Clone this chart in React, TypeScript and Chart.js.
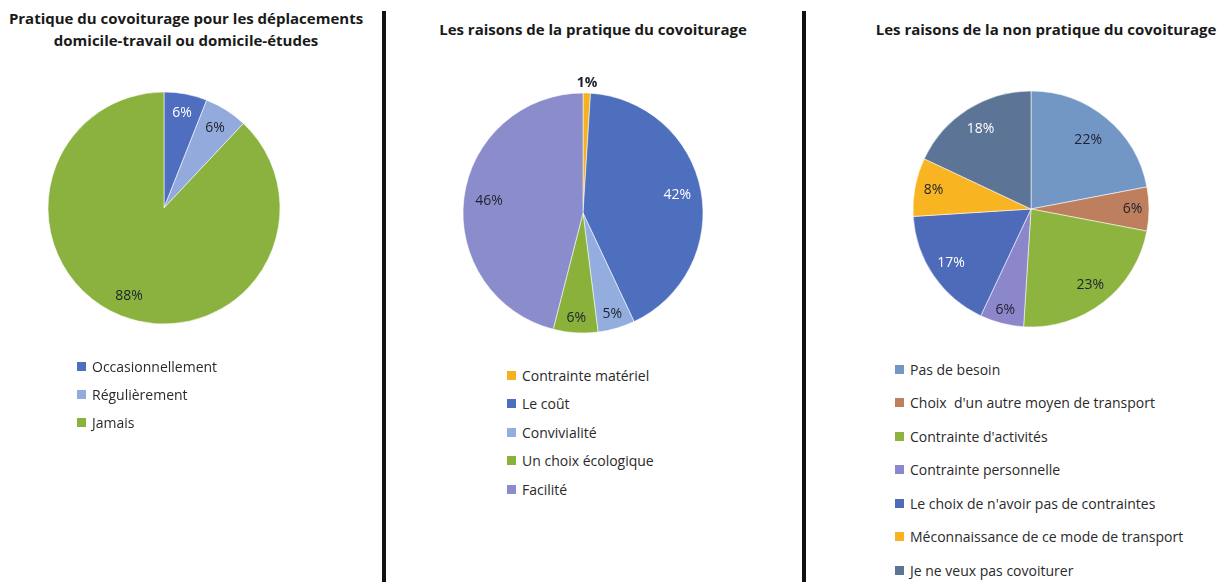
import React, { useEffect, useRef } from "react";
import { Chart, registerables } from "chart.js";

Chart.register(...registerables);

// ---- Data ----
const practiceLabels = ["Occasionnellement", "Régulièrement", "Jamais"];
const practiceValues = [6, 6, 88];

const reasonLabels = [
  "Contrainte matériel",
  "Le coût",
  "Convivialité",
  "Un choix écologique",
  "Facilité",
];
const reasonValues = [1, 42, 5, 6, 46];

const nonReasonLabels = [
  "Pas de besoin",
  "Choix  d'un autre moyen de transport",
  "Contrainte d'activités",
  "Contrainte personnelle",
  "Le choix de n'avoir pas de contraintes",
  "Méconnaissance de ce mode de transport",
  "Je ne veux pas covoiturer",
];
const nonReasonValues = [22, 6, 23, 6, 17, 8, 18];

// ---- Styles ----
const practiceColors = ["#4F6EC0", "#93ABDC", "#8BB23E"];
const reasonColors = ["#F4B120", "#4E6EBE", "#93ADDE", "#8AB23A", "#8B8CCB"];
const nonReasonColors = ["#7397C5", "#BD7F5E", "#8CB43F", "#8C87CA", "#4E6BBA", "#F9B521", "#5C7495"];

const DARK = "#1e2230";
const FONT = '"Open Sans", "Noto Sans", sans-serif';

type Panel = {
  key: string;
  title: string[];
  titleX: number;
  titleY: number[];
  labels: string[];
  values: number[];
  colors: string[];
  labelColors: string[];
  labelFrac: number[];
  labelBold: boolean[];
  cx: number;
  cy: number;
  r: number;
  legendX: number;
  legendY: number;
  legendStep: number;
};

const panels: Panel[] = [
  {
    key: "p1",
    title: ["Pratique du covoiturage pour les déplacements", "domicile-travail ou domicile-études"],
    titleX: 186,
    titleY: [19, 41],
    labels: practiceLabels,
    values: practiceValues,
    colors: practiceColors,
    labelColors: ["#ffffff", DARK, DARK],
    labelFrac: [0.83, 0.82, 0.82],
    labelBold: [false, false, false],
    cx: 164,
    cy: 208,
    r: 116,
    legendX: 77,
    legendY: 366,
    legendStep: 28,
  },
  {
    key: "p2",
    title: ["Les raisons de la pratique du covoiturage"],
    titleX: 593,
    titleY: [30],
    labels: reasonLabels,
    values: reasonValues,
    colors: reasonColors,
    labelColors: [DARK, "#ffffff", DARK, DARK, DARK],
    labelFrac: [1.08, 0.8, 0.875, 0.875, 0.79],
    labelBold: [true, false, false, false, false],
    cx: 583,
    cy: 213,
    r: 120,
    legendX: 507,
    legendY: 375,
    legendStep: 28.5,
  },
  {
    key: "p3",
    title: ["Les raisons de la non pratique du covoiturage"],
    titleX: 1046,
    titleY: [30],
    labels: nonReasonLabels,
    values: nonReasonValues,
    colors: nonReasonColors,
    labelColors: [DARK, DARK, DARK, DARK, "#ffffff", DARK, "#ffffff"],
    labelFrac: [0.76, 0.86, 0.82, 0.88, 0.82, 0.84, 0.8],
    labelBold: [false, false, false, false, false, false, false],
    cx: 1031,
    cy: 209,
    r: 118,
    legendX: 895,
    legendY: 369,
    legendStep: 33.5,
  },
];

const CANVAS = 300;

const sliceLabelPlugin = {
  id: "sliceLabels",
  afterDatasetsDraw(chart: any, _args: any, opts: any) {
    const ctx = chart.ctx;
    const meta = chart.getDatasetMeta(0);
    const values = chart.data.datasets[0].data as number[];
    ctx.save();
    ctx.textAlign = "center";
    ctx.textBaseline = "middle";
    meta.data.forEach((arc: any, i: number) => {
      const p = arc.getProps(["x", "y", "startAngle", "endAngle", "outerRadius"], true);
      const mid = (p.startAngle + p.endAngle) / 2;
      const d = p.outerRadius * (opts.frac[i] ?? 0.8);
      const x = p.x + Math.cos(mid) * d;
      const y = p.y + Math.sin(mid) * d;
      ctx.font = `${opts.bold[i] ? "bold " : ""}14px ${FONT}`;
      ctx.fillStyle = opts.colors[i];
      ctx.fillText(`${values[i]}%`, x, y);
    });
    ctx.restore();
  },
};

function PiePanel({ panel }: { panel: Panel }) {
  const ref = useRef<HTMLCanvasElement | null>(null);
  useEffect(() => {
    if (!ref.current) return;
    const chart = new Chart(ref.current, {
      type: "pie",
      data: {
        labels: panel.labels,
        datasets: [
          {
            data: panel.values,
            backgroundColor: panel.colors,
            borderColor: "rgba(255,255,255,0.55)",
            borderWidth: 1,
          },
        ],
      },
      options: {
        responsive: false,
        animation: false,
        radius: panel.r,
        layout: { padding: 0 },
        plugins: {
          legend: { display: false },
          title: { display: false },
          tooltip: { enabled: false },
          sliceLabels: {
            colors: panel.labelColors,
            frac: panel.labelFrac,
            bold: panel.labelBold,
          },
        } as any,
      } as any,
      plugins: [sliceLabelPlugin],
    });
    return () => chart.destroy();
  }, [panel]);

  return (
    <>
      {panel.title.map((t, i) => (
        <div
          key={"t" + i}
          style={{
            position: "absolute",
            left: panel.titleX - 250,
            width: 500,
            top: panel.titleY[i] - 11,
            height: 22,
            lineHeight: "22px",
            textAlign: "center",
            font: `bold 15px ${FONT}`,
            color: "#1a1a1a",
            whiteSpace: "pre",
          }}
        >
          {t}
        </div>
      ))}
      <canvas
        ref={ref}
        width={CANVAS}
        height={CANVAS}
        style={{
          position: "absolute",
          left: panel.cx - CANVAS / 2,
          top: panel.cy - CANVAS / 2,
          width: CANVAS,
          height: CANVAS,
        }}
      />
      {panel.labels.map((l, i) => (
        <div
          key={"l" + i}
          style={{
            position: "absolute",
            left: panel.legendX,
            top: panel.legendY + i * panel.legendStep - 10,
            height: 20,
            display: "flex",
            alignItems: "center",
            whiteSpace: "pre",
            font: `14px ${FONT}`,
            color: "#2a2a2a",
          }}
        >
          <span
            style={{
              display: "inline-block",
              width: 9,
              height: 9,
              background: panel.colors[i],
              marginRight: 6,
            }}
          />
          {l}
        </div>
      ))}
    </>
  );
}

export default function App() {
  return (
    <div
      style={{
        position: "fixed",
        left: 0,
        top: 0,
        width: 1227,
        height: 582,
        background: "#ffffff",
        overflow: "hidden",
      }}
    >
      {panels.map((p) => (
        <PiePanel key={p.key} panel={p} />
      ))}
      <div style={{ position: "absolute", left: 382, top: 11, width: 4, height: 571, background: "#111" }} />
      <div style={{ position: "absolute", left: 802, top: 11, width: 4, height: 571, background: "#111" }} />
    </div>
  );
}
